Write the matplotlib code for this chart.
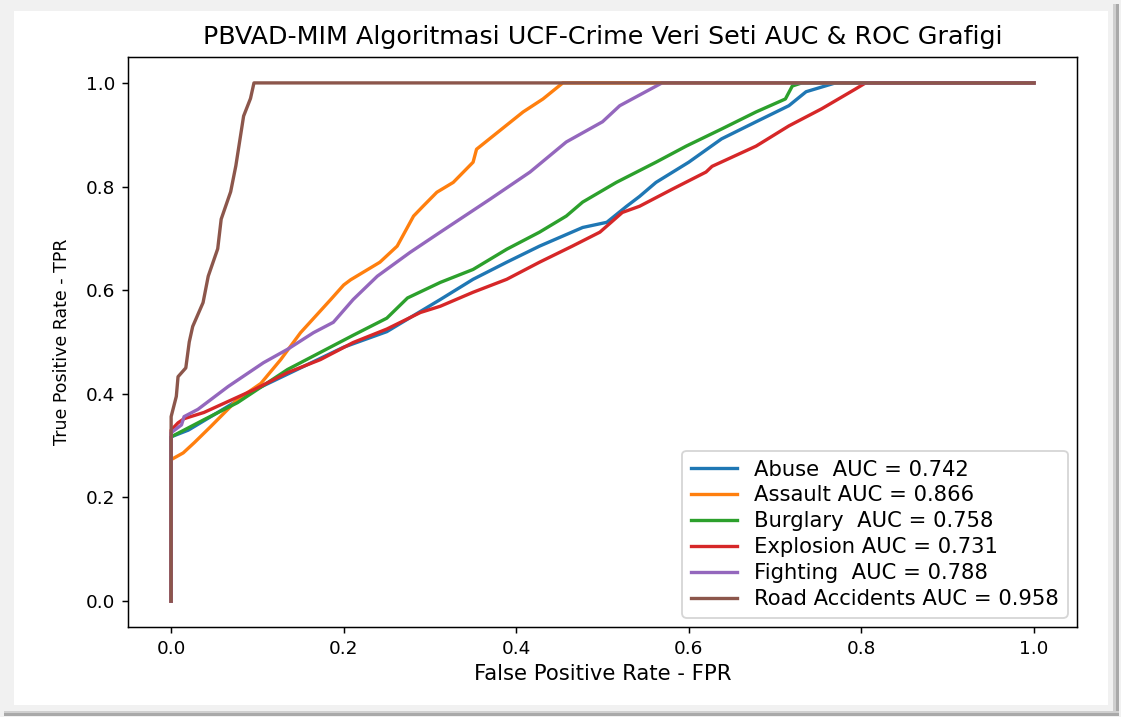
import matplotlib
matplotlib.use("Agg")
import matplotlib.pyplot as plt
from matplotlib.patches import Rectangle

# ---- data ----
labels = ["Abuse  AUC = 0.742", "Assault AUC = 0.866", "Burglary  AUC = 0.758",
          "Explosion AUC = 0.731", "Fighting  AUC = 0.788", "Road Accidents AUC = 0.958"]

abuse_fpr = [0, 0, 0.02, 0.05, 0.10, 0.15, 0.20, 0.25, 0.29, 0.312, 0.35, 0.389, 0.427, 0.477,
             0.505, 0.528, 0.543, 0.562, 0.60, 0.638, 0.678, 0.716, 0.736, 0.77, 1.0]
abuse_tpr = [0, 0.317, 0.33, 0.36, 0.41, 0.45, 0.49, 0.52, 0.56, 0.582, 0.621, 0.654, 0.685, 0.721,
             0.731, 0.762, 0.781, 0.808, 0.847, 0.892, 0.925, 0.956, 0.983, 1.0, 1.0]

assault_fpr = [0, 0, 0.014, 0.027, 0.046, 0.077, 0.104, 0.127, 0.15, 0.185, 0.20, 0.208, 0.242,
               0.262, 0.281, 0.292, 0.308, 0.327, 0.35, 0.354, 0.408, 0.431, 0.454, 1.0]
assault_tpr = [0, 0.273, 0.286, 0.306, 0.337, 0.389, 0.42, 0.466, 0.518, 0.582, 0.61, 0.62, 0.654,
               0.685, 0.743, 0.762, 0.789, 0.808, 0.847, 0.872, 0.944, 0.969, 1.0, 1.0]

burglary_fpr = [0, 0, 0.038, 0.077, 0.135, 0.173, 0.211, 0.25, 0.274, 0.312, 0.35, 0.389, 0.427,
                0.458, 0.477, 0.516, 0.562, 0.597, 0.638, 0.678, 0.712, 0.72, 0.731, 1.0]
burglary_tpr = [0, 0.317, 0.35, 0.383, 0.447, 0.48, 0.513, 0.546, 0.585, 0.615, 0.64, 0.679, 0.712,
                0.743, 0.77, 0.808, 0.847, 0.878, 0.911, 0.944, 0.969, 0.994, 1.0, 1.0]

explosion_fpr = [0, 0, 0.008, 0.015, 0.038, 0.096, 0.135, 0.173, 0.211, 0.25, 0.289, 0.312, 0.35,
                 0.389, 0.427, 0.465, 0.497, 0.523, 0.543, 0.581, 0.62, 0.627, 0.678, 0.716,
                 0.754, 0.793, 0.805, 1.0]
explosion_tpr = [0, 0.33, 0.344, 0.352, 0.364, 0.408, 0.441, 0.466, 0.499, 0.525, 0.557, 0.569, 0.596,
                 0.621, 0.654, 0.685, 0.712, 0.75, 0.762, 0.795, 0.828, 0.839, 0.878, 0.917,
                 0.95, 0.988, 1.0, 1.0]

fighting_fpr = [0, 0, 0.012, 0.015, 0.031, 0.066, 0.107, 0.135, 0.165, 0.188, 0.211, 0.239, 0.277,
                0.312, 0.37, 0.416, 0.458, 0.50, 0.52, 0.569, 1.0]
fighting_tpr = [0, 0.325, 0.34, 0.356, 0.37, 0.414, 0.46, 0.486, 0.518, 0.538, 0.582, 0.627, 0.673,
                0.712, 0.776, 0.828, 0.886, 0.925, 0.956, 1.0, 1.0]

road_fpr = [0, 0, 0.006, 0.008, 0.017, 0.021, 0.025, 0.037, 0.043, 0.054, 0.058, 0.069, 0.075,
            0.084, 0.092, 0.096, 1.0]
road_tpr = [0, 0.356, 0.395, 0.433, 0.45, 0.50, 0.53, 0.576, 0.627, 0.68, 0.737, 0.79, 0.84,
            0.936, 0.97, 1.0, 1.0]

xticks = [0.0, 0.2, 0.4, 0.6, 0.8, 1.0]
yticks = [0.0, 0.2, 0.4, 0.6, 0.8, 1.0]

W, H = 1121, 717
DPI = 133.333
fig = plt.figure(figsize=(W / DPI, H / DPI), dpi=DPI, facecolor="#f1f1f1")

# screenshot frame: white card with shadow
def px_rect(x0, y0, x1, y1, color, z):
    fig.patches.append(Rectangle((x0 / W, 1 - y1 / H), (x1 - x0) / W, (y1 - y0) / H,
                                 transform=fig.transFigure, facecolor=color,
                                 edgecolor="none", zorder=z))

px_rect(1113, 4, 1116, 714, "#cfcfcf", 0)
px_rect(1116, 4, 1119, 714, "#a9a9a9", 0)
px_rect(4, 711, 1119, 713, "#cfcfcf", 0)
px_rect(4, 713, 1119, 716, "#a9a9a9", 0)
px_rect(14, 11, 1108, 705, "white", 1)

ax = fig.add_axes([128 / W, 1 - 627 / H, (1077 - 128) / W, (627 - 57) / H])
ax.set_zorder(2)

curves = [(abuse_fpr, abuse_tpr), (assault_fpr, assault_tpr), (burglary_fpr, burglary_tpr),
          (explosion_fpr, explosion_tpr), (fighting_fpr, fighting_tpr), (road_fpr, road_tpr)]
colors = ["#1f77b4", "#ff7f0e", "#2ca02c", "#d62728", "#9467bd", "#8c564b"]
for (fx, ty), lab, c in zip(curves, labels, colors):
    ax.plot(fx, ty, color=c, lw=1.8, label=lab)

ax.set_xlim(-0.05, 1.05)
ax.set_ylim(-0.05, 1.05)
ax.set_xticks(xticks)
ax.set_yticks(yticks)
ax.tick_params(labelsize=10)
ax.set_title("PBVAD-MIM Algoritmasi UCF-Crime Veri Seti AUC & ROC Grafigi", fontsize=13.7, pad=7)
ax.set_xlabel("False Positive Rate - FPR", fontsize=11.4, labelpad=3)
ax.set_ylabel("True Positive Rate - TPR", fontsize=9.4, labelpad=8)
leg = ax.legend(loc="lower right", fontsize=11.4, labelspacing=0.28, handlelength=2.2,
                borderaxespad=0.45)

fig.savefig("out.png", dpi=DPI, facecolor=fig.get_facecolor())
